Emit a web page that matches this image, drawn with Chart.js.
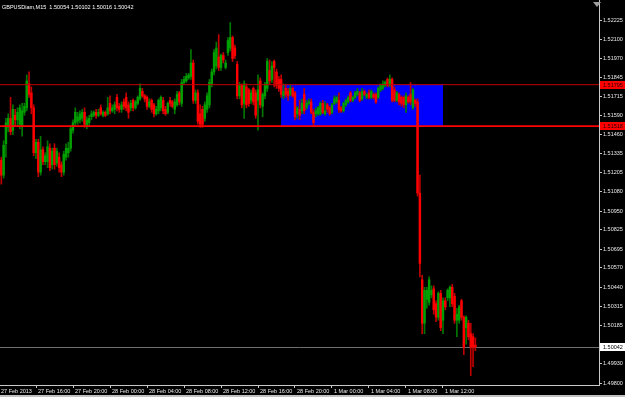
<!DOCTYPE html>
<html>
<head>
<meta charset="utf-8">
<script src="https://cdn.jsdelivr.net/npm/chart.js@4.4.1/dist/chart.umd.min.js"></script>
<style>
  html, body { margin: 0; padding: 0; background: #000; overflow: hidden; }
</style>
</head>
<body>
<canvas id="chart" width="625" height="397"></canvas>
<script>
// GBPUSD M15 candles, one per 15 minutes starting 27 Feb 2013 12:00
const opens = [
  1.5127, 1.5129, 1.5119, 1.5140, 1.5151, 1.5157, 1.5149, 1.5159, 1.5156, 1.5153,
  1.5152, 1.5161, 1.5164, 1.5180, 1.5174, 1.5164, 1.5134, 1.5141, 1.5121, 1.5136,
  1.5128, 1.5128, 1.5137, 1.5126, 1.5137, 1.5127, 1.5131, 1.5126, 1.5121, 1.5131,
  1.5134, 1.5137, 1.5149, 1.5154, 1.5155, 1.5156, 1.5157, 1.5161, 1.5152, 1.5154,
  1.5158, 1.5159, 1.5161, 1.5159, 1.5164, 1.5159, 1.5161, 1.5160, 1.5167, 1.5162,
  1.5163, 1.5171, 1.5165, 1.5163, 1.5168, 1.5171, 1.5166, 1.5164, 1.5169, 1.5164,
  1.5167, 1.5170, 1.5175, 1.5172, 1.5171, 1.5165, 1.5169, 1.5166, 1.5160, 1.5162,
  1.5164, 1.5169, 1.5163, 1.5161, 1.5169, 1.5168, 1.5163, 1.5166, 1.5174, 1.5167,
  1.5181, 1.5182, 1.5184, 1.5185, 1.5194, 1.5169, 1.5174, 1.5160, 1.5163, 1.5157,
  1.5163, 1.5166, 1.5180, 1.5188, 1.5192, 1.5198, 1.5191, 1.5199, 1.5191, 1.5201,
  1.5204, 1.5211, 1.5204, 1.5193, 1.5172, 1.5179, 1.5167, 1.5178, 1.5176, 1.5169,
  1.5177, 1.5174, 1.5169, 1.5182, 1.5165, 1.5172, 1.5177, 1.5189, 1.5183, 1.5195,
  1.5188, 1.5183, 1.5183, 1.5172, 1.5177, 1.5175, 1.5173, 1.5177, 1.5174, 1.5160,
  1.5163, 1.5162, 1.5173, 1.5164, 1.5167, 1.5168, 1.5161, 1.5160, 1.5160, 1.5160,
  1.5167, 1.5160, 1.5166, 1.5164, 1.5161, 1.5167, 1.5168, 1.5169, 1.5164, 1.5162,
  1.5166, 1.5168, 1.5174, 1.5169, 1.5171, 1.5173, 1.5174, 1.5170, 1.5175, 1.5171,
  1.5174, 1.5171, 1.5173, 1.5173, 1.5171, 1.5176, 1.5177, 1.5179, 1.5183, 1.5179,
  1.5183, 1.5176, 1.5169, 1.5173, 1.5171, 1.5171, 1.5166, 1.5171, 1.5173, 1.5164,
  1.5169, 1.5168, 1.5107, 1.5049, 1.5020, 1.5036, 1.5034, 1.5039, 1.5043, 1.5033,
  1.5024, 1.5040, 1.5022, 1.5035, 1.5037, 1.5037, 1.5044, 1.5038, 1.5022, 1.5022,
  1.5035, 1.5024, 1.5017, 1.5020, 1.5013, 1.5011, 1.50054
];
const highs = [
  1.5131, 1.5131, 1.5142, 1.5157, 1.5160, 1.5171, 1.5166, 1.5163, 1.5164, 1.5166,
  1.5167, 1.5167, 1.5186, 1.5188, 1.5178, 1.5166, 1.5143, 1.5143, 1.5145, 1.5138,
  1.5134, 1.5142, 1.5140, 1.5137, 1.5140, 1.5137, 1.5134, 1.5128, 1.5135, 1.5140,
  1.5141, 1.5152, 1.5156, 1.5164, 1.5161, 1.5162, 1.5163, 1.5164, 1.5158, 1.5159,
  1.5162, 1.5162, 1.5163, 1.5163, 1.5166, 1.5162, 1.5162, 1.5171, 1.5172, 1.5166,
  1.5168, 1.5173, 1.5167, 1.5168, 1.5170, 1.5174, 1.5168, 1.5169, 1.5170, 1.5169,
  1.5172, 1.5180, 1.5177, 1.5173, 1.5172, 1.5170, 1.5170, 1.5167, 1.5165, 1.5170,
  1.5172, 1.5171, 1.5165, 1.5168, 1.5171, 1.5169, 1.5170, 1.5175, 1.5175, 1.5183,
  1.5185, 1.5187, 1.5187, 1.5203, 1.5196, 1.5176, 1.5176, 1.5166, 1.5165, 1.5168,
  1.5174, 1.5183, 1.5190, 1.5203, 1.5208, 1.5213, 1.5200, 1.5201, 1.5196, 1.5211,
  1.5221, 1.5212, 1.5206, 1.5195, 1.5181, 1.5180, 1.5182, 1.5180, 1.5177, 1.5176,
  1.5178, 1.5176, 1.5186, 1.5184, 1.5174, 1.5181, 1.5197, 1.5196, 1.5195, 1.5196,
  1.5190, 1.5185, 1.5186, 1.5180, 1.5179, 1.5177, 1.5179, 1.5178, 1.5175, 1.5165,
  1.5169, 1.5170, 1.5177, 1.5169, 1.5170, 1.5170, 1.5163, 1.5164, 1.5165, 1.5168,
  1.5169, 1.5168, 1.5167, 1.5165, 1.5167, 1.5172, 1.5172, 1.5174, 1.5165, 1.5168,
  1.5170, 1.5172, 1.5175, 1.5172, 1.5175, 1.5177, 1.5175, 1.5177, 1.5176, 1.5174,
  1.5176, 1.5176, 1.5174, 1.5174, 1.5178, 1.5180, 1.5182, 1.5182, 1.5184, 1.5186,
  1.5184, 1.5178, 1.5175, 1.5174, 1.5172, 1.5172, 1.5174, 1.5172, 1.5181, 1.5177,
  1.5170, 1.5170, 1.5119, 1.5052, 1.5044, 1.5044, 1.5051, 1.5045, 1.5045, 1.5035,
  1.5041, 1.5042, 1.5037, 1.5037, 1.5043, 1.5045, 1.5046, 1.5040, 1.5030, 1.5032,
  1.5036, 1.5025, 1.5025, 1.5022, 1.5020, 1.5013, 1.50102
];
const lows = [
  1.5118, 1.5113, 1.5117, 1.5131, 1.5148, 1.5146, 1.5146, 1.5152, 1.5152, 1.5150,
  1.5145, 1.5159, 1.5162, 1.5171, 1.5160, 1.5132, 1.5130, 1.5118, 1.5119, 1.5126,
  1.5126, 1.5124, 1.5122, 1.5123, 1.5123, 1.5125, 1.5121, 1.5118, 1.5119, 1.5129,
  1.5131, 1.5135, 1.5147, 1.5152, 1.5153, 1.5154, 1.5155, 1.5151, 1.5150, 1.5152,
  1.5156, 1.5158, 1.5157, 1.5158, 1.5159, 1.5158, 1.5158, 1.5159, 1.5160, 1.5161,
  1.5160, 1.5162, 1.5161, 1.5161, 1.5163, 1.5162, 1.5157, 1.5162, 1.5162, 1.5163,
  1.5166, 1.5169, 1.5171, 1.5168, 1.5163, 1.5164, 1.5161, 1.5158, 1.5159, 1.5160,
  1.5162, 1.5160, 1.5159, 1.5160, 1.5165, 1.5164, 1.5160, 1.5165, 1.5166, 1.5165,
  1.5180, 1.5181, 1.5183, 1.5183, 1.5167, 1.5167, 1.5153, 1.5151, 1.5151, 1.5155,
  1.5161, 1.5164, 1.5178, 1.5186, 1.5190, 1.5189, 1.5189, 1.5194, 1.5190, 1.5199,
  1.5202, 1.5195, 1.5197, 1.5170, 1.5170, 1.5164, 1.5157, 1.5164, 1.5165, 1.5167,
  1.5166, 1.5157, 1.5149, 1.5164, 1.5158, 1.5170, 1.5175, 1.5180, 1.5181, 1.5178,
  1.5177, 1.5175, 1.5171, 1.5170, 1.5171, 1.5169, 1.5172, 1.5171, 1.5156, 1.5157,
  1.5156, 1.5160, 1.5160, 1.5163, 1.5166, 1.5160, 1.5152, 1.5158, 1.5159, 1.5159,
  1.5160, 1.5159, 1.5161, 1.5159, 1.5160, 1.5166, 1.5167, 1.5161, 1.5161, 1.5161,
  1.5165, 1.5167, 1.5168, 1.5168, 1.5170, 1.5172, 1.5168, 1.5169, 1.5172, 1.5170,
  1.5170, 1.5170, 1.5170, 1.5167, 1.5170, 1.5175, 1.5176, 1.5178, 1.5178, 1.5178,
  1.5168, 1.5168, 1.5168, 1.5166, 1.5165, 1.5164, 1.5161, 1.5167, 1.5166, 1.5163,
  1.5165, 1.5105, 1.5051, 1.5013, 1.5013, 1.5030, 1.5032, 1.5037, 1.5026, 1.5021,
  1.5022, 1.5015, 1.5013, 1.5029, 1.5035, 1.5031, 1.5031, 1.5020, 1.5011, 1.5020,
  1.5022, 1.4999, 1.5006, 1.5009, 1.4985, 1.4991, 1.50016
];
const closes = [
  1.5122, 1.5119, 1.5139, 1.5154, 1.5157, 1.5148, 1.5163, 1.5156, 1.5161, 1.5164,
  1.5162, 1.5165, 1.5182, 1.5173, 1.5164, 1.5134, 1.5141, 1.5121, 1.5136, 1.5128,
  1.5132, 1.5138, 1.5124, 1.5135, 1.5126, 1.5135, 1.5124, 1.5121, 1.5133, 1.5137,
  1.5137, 1.5150, 1.5154, 1.5161, 1.5158, 1.5160, 1.5161, 1.5153, 1.5156, 1.5157,
  1.5160, 1.5161, 1.5159, 1.5161, 1.5160, 1.5161, 1.5159, 1.5164, 1.5162, 1.5164,
  1.5166, 1.5164, 1.5163, 1.5166, 1.5165, 1.5164, 1.5161, 1.5167, 1.5164, 1.5168,
  1.5171, 1.5177, 1.5172, 1.5170, 1.5165, 1.5168, 1.5163, 1.5160, 1.5163, 1.5169,
  1.5171, 1.5162, 1.5160, 1.5167, 1.5167, 1.5165, 1.5168, 1.5173, 1.5168, 1.5181,
  1.5183, 1.5185, 1.5186, 1.5194, 1.5169, 1.5174, 1.5155, 1.5153, 1.5153, 1.5166,
  1.5172, 1.5181, 1.5188, 1.5201, 1.5204, 1.5191, 1.5199, 1.5196, 1.5194, 1.5209,
  1.5211, 1.5197, 1.5199, 1.5172, 1.5179, 1.5166, 1.5180, 1.5166, 1.5167, 1.5174,
  1.5168, 1.5159, 1.5176, 1.5166, 1.5173, 1.5179, 1.5195, 1.5182, 1.5192, 1.5191,
  1.5179, 1.5177, 1.5173, 1.5175, 1.5173, 1.5172, 1.5177, 1.5172, 1.5158, 1.5164,
  1.5159, 1.5167, 1.5162, 1.5167, 1.5168, 1.5161, 1.5154, 1.5162, 1.5164, 1.5167,
  1.5161, 1.5162, 1.5163, 1.5160, 1.5166, 1.5170, 1.5171, 1.5163, 1.5162, 1.5167,
  1.5169, 1.5171, 1.5169, 1.5171, 1.5174, 1.5175, 1.5169, 1.5175, 1.5173, 1.5173,
  1.5171, 1.5175, 1.5171, 1.5168, 1.5177, 1.5179, 1.5180, 1.5181, 1.5179, 1.5183,
  1.5169, 1.5169, 1.5174, 1.5168, 1.5167, 1.5166, 1.5172, 1.5168, 1.5168, 1.5176,
  1.5167, 1.5107, 1.5060, 1.5020, 1.5042, 1.5042, 1.5049, 1.5042, 1.5029, 1.5024,
  1.5040, 1.5017, 1.5035, 1.5031, 1.5042, 1.5044, 1.5033, 1.5022, 1.5026, 1.5031,
  1.5024, 1.5004, 1.5024, 1.5011, 1.5004, 1.5004, 1.50042
];

const timeLabels = ['27 Feb 2013', '27 Feb 16:00', '27 Feb 20:00', '28 Feb 00:00', '28 Feb 04:00',
  '28 Feb 08:00', '28 Feb 12:00', '28 Feb 16:00', '28 Feb 20:00', '1 Mar 00:00',
  '1 Mar 04:00', '1 Mar 08:00', '1 Mar 12:00'];
const timeLabelBars = [0, 16, 32, 48, 64, 80, 96, 112, 128, 144, 160, 176, 192];
const priceTicks = [1.52225, 1.52100, 1.51970, 1.51845, 1.51715, 1.51590, 1.51460, 1.51335,
  1.51205, 1.51080, 1.50950, 1.50825, 1.50695, 1.50570, 1.50440, 1.50315, 1.50185, 1.49930, 1.49800];
const levelPrices = [1.51795, 1.51518];
const zoneBars = [122, 192];
const lastPrice = 1.50042;
const titleText = 'GBPUSDiam,M15  1.50054 1.50102 1.50016 1.50042';

const bullBody = '#00a000', bearBody = '#ff0000';
const bullWick = '#007800', bearWick = '#c00000';
const axisColor = '#c8c8c8';
const textColor = '#e8e8e8';
const smallFont = { family: 'Liberation Sans', size: 5.5 };

const barIdx = closes.map((c, i) => i);
const isBull = i => closes[i] >= opens[i];

const mtOverlay = {
  id: 'mtOverlay',
  beforeDraw(chart) {
    const ctx = chart.ctx;
    ctx.save();
    ctx.fillStyle = '#000';
    ctx.fillRect(0, 0, chart.width, chart.height);
    ctx.restore();
  },
  beforeDatasetsDraw(chart) {
    const { ctx, chartArea, scales: { x, y } } = chart;
    ctx.save();
    // rectangle zone between the two levels
    const x1 = x.getPixelForValue(zoneBars[0]);
    const x2 = x.getPixelForValue(zoneBars[1]);
    const y1 = y.getPixelForValue(levelPrices[0]);
    const y2 = y.getPixelForValue(levelPrices[1]);
    ctx.fillStyle = '#0000ff';
    ctx.fillRect(x1, y1, x2 - x1, y2 - y1);
    // bid line
    const py = Math.round(y.getPixelForValue(lastPrice)) + 0.5;
    ctx.strokeStyle = '#707070';
    ctx.lineWidth = 1;
    ctx.beginPath();
    ctx.moveTo(chartArea.left, py);
    ctx.lineTo(chartArea.right, py);
    ctx.stroke();
    ctx.restore();
  },
  afterDatasetsDraw(chart) {
    const { ctx, chartArea, scales: { y } } = chart;
    ctx.save();
    levelPrices.forEach((p, k) => {
      const py = y.getPixelForValue(p);
      ctx.strokeStyle = k === 0 ? '#c00000' : '#ff0000';
      ctx.lineWidth = k === 0 ? 1 : 1.6;
      ctx.beginPath();
      ctx.moveTo(chartArea.left, py);
      ctx.lineTo(chartArea.right, py);
      ctx.stroke();
    });
    ctx.restore();
  },
  afterDraw(chart) {
    const { ctx, chartArea, scales: { y } } = chart;
    ctx.save();
    ctx.font = smallFont.size + 'px ' + smallFont.family;
    ctx.textBaseline = 'middle';
    ctx.textAlign = 'left';
    // level price tags
    levelPrices.forEach(p => {
      const py = Math.round(y.getPixelForValue(p));
      ctx.fillStyle = '#ff0000';
      ctx.fillRect(chartArea.right + 1, py - 4, 26, 8);
      ctx.fillStyle = '#200000';
      ctx.fillText(p.toFixed(5), chartArea.right + 4, py);
    });
    // last price tag
    const lp = Math.round(y.getPixelForValue(lastPrice));
    ctx.fillStyle = '#ffffff';
    ctx.fillRect(chartArea.right + 1, lp - 4, 26, 8);
    ctx.fillStyle = '#000';
    ctx.fillText(lastPrice.toFixed(5), chartArea.right + 4, lp);
    // title
    ctx.fillStyle = '#ffffff';
    ctx.fillText(titleText, 2, 7);
    // chart shift marker
    ctx.fillStyle = '#a0a0a0';
    ctx.beginPath();
    ctx.moveTo(chartArea.right - 6, 2);
    ctx.lineTo(chartArea.right + 2, 2);
    ctx.lineTo(chartArea.right - 2, 7);
    ctx.closePath();
    ctx.fill();
    // window edge
    ctx.fillStyle = '#c0c0c0';
    ctx.fillRect(0, 395, chart.width, 2);
    ctx.restore();
  }
};

new Chart(document.getElementById('chart').getContext('2d'), {
  type: 'bar',
  data: {
    datasets: [
      {
        label: 'Wick',
        data: barIdx.map(i => ({ x: i, y: [lows[i], highs[i]] })),
        backgroundColor: c => isBull(c.dataIndex) ? bullWick : bearWick,
        barThickness: 1,
        grouped: false,
        order: 2
      },
      {
        label: 'Body',
        data: barIdx.map(i => ({ x: i, y: [opens[i], closes[i]] })),
        backgroundColor: c => isBull(c.dataIndex) ? bullBody : bearBody,
        barThickness: 1.8,
        minBarLength: 1,
        grouped: false,
        order: 1
      }
    ]
  },
  options: {
    responsive: false,
    devicePixelRatio: 1,
    animation: false,
    events: [],
    layout: { padding: 0 },
    plugins: { legend: { display: false }, tooltip: { enabled: false } },
    scales: {
      x: {
        type: 'linear',
        min: 0.432,
        max: 259.46,
        offset: false,
        afterBuildTicks: s => { s.ticks = timeLabelBars.map(v => ({ value: v })); },
        afterFit: s => { s.height = 12; s.paddingLeft = 0; s.paddingRight = 0; },
        grid: { display: true, drawOnChartArea: false, drawTicks: true, tickLength: 3, color: axisColor, offset: false },
        border: { display: true, color: axisColor, width: 1 },
        ticks: {
          autoSkip: false, maxRotation: 0, minRotation: 0, align: 'start', labelOffset: 2, padding: 0,
          color: textColor, font: smallFont,
          callback: (v, i) => timeLabels[i]
        }
      },
      y: {
        type: 'linear',
        position: 'right',
        min: 1.49787,
        max: 1.52361,
        afterBuildTicks: s => { s.ticks = priceTicks.map(v => ({ value: v })); },
        afterFit: s => { s.width = 26; s.paddingTop = 0; s.paddingBottom = 0; },
        grid: { display: true, drawOnChartArea: false, drawTicks: true, tickLength: 3, color: axisColor },
        border: { display: true, color: axisColor, width: 1 },
        ticks: {
          autoSkip: false, padding: 1, color: textColor, font: smallFont,
          callback: v => Number(v).toFixed(5)
        }
      }
    }
  },
  plugins: [mtOverlay]
});
</script>
</body>
</html>
